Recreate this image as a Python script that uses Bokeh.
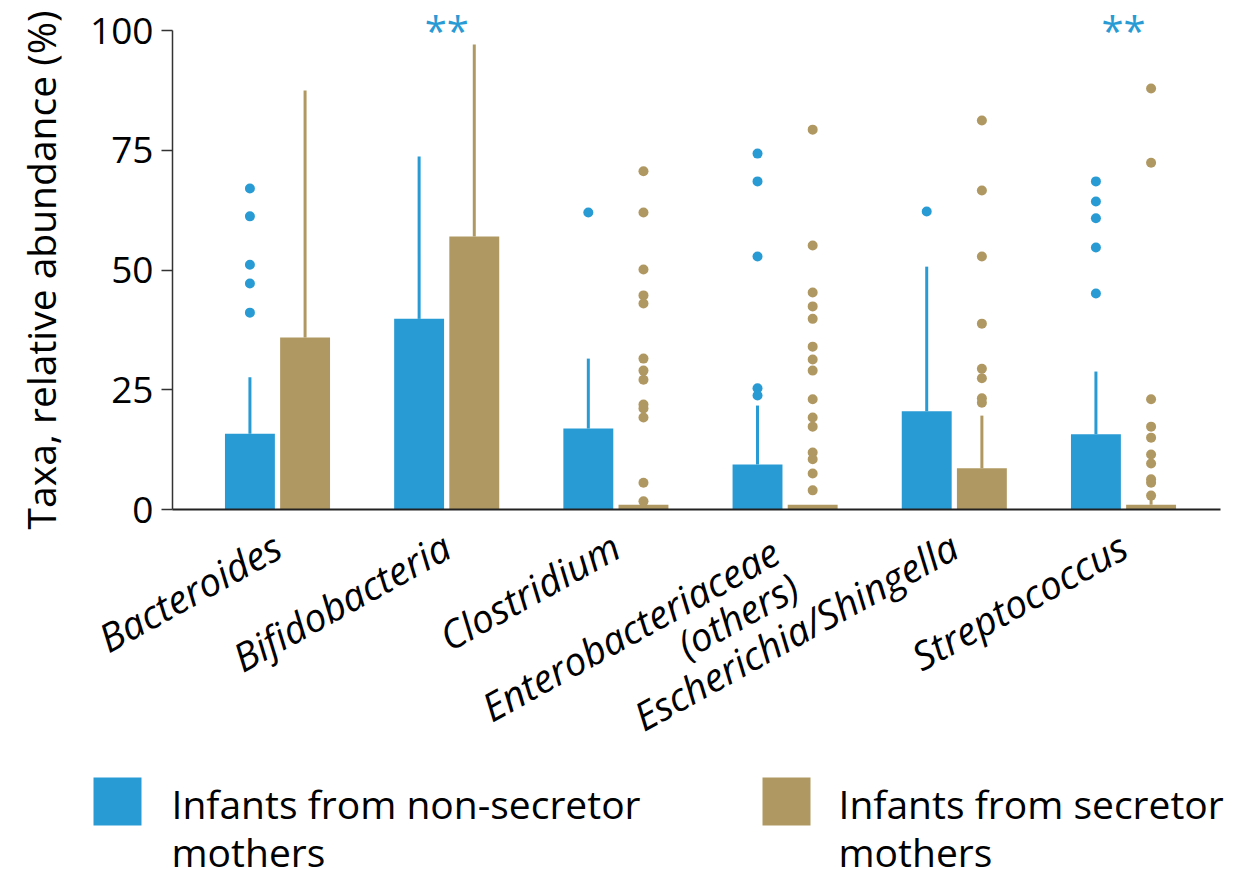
import math

from bokeh.core.properties import value
from bokeh.embed import file_html
from bokeh.layouts import column
from bokeh.models import FixedTicker, Label, LinearAxis, Range1d
from bokeh.plotting import figure
from bokeh.resources import INLINE

# Taxa shown along the x axis
taxa = [
    "Bacteroides",
    "Bifidobacteria",
    "Clostridium",
    "Enterobacteriaceae\n(others)",
    "Escherichia/Shingella",
    "Streptococcus",
]

# Relative abundance (%) per taxon: bar height and upper whisker
nonsecretor_bar = [15.8, 39.8, 16.9, 9.4, 20.5, 15.7]
nonsecretor_whisker = [27.6, 73.7, 31.5, 21.7, 50.7, 28.8]
secretor_bar = [35.9, 57.0, 1.0, 1.0, 8.6, 1.0]
secretor_whisker = [87.5, 97.1, 1.5, 1.0, 19.6, 2.5]

# Individual outlying samples per taxon
nonsecretor_outliers = [
    [67.0, 61.2, 51.1, 47.2, 41.1],
    [],
    [62.0],
    [74.3, 68.5, 52.8, 25.3, 23.8],
    [62.2],
    [68.5, 64.3, 60.8, 54.7, 45.1],
]
secretor_outliers = [
    [],
    [],
    [70.6, 62.0, 50.1, 44.7, 43.0, 31.5, 29.0, 27.1, 21.9, 21.1, 19.2, 5.6, 1.7],
    [79.3, 55.1, 45.3, 42.4, 39.8, 34.0, 31.3, 29.0, 23.0, 19.2, 17.3, 11.9, 10.5, 7.5, 4.0],
    [81.2, 66.6, 52.8, 38.8, 29.4, 27.4, 23.2, 22.3],
    [87.9, 72.4, 23.0, 17.3, 15.0, 11.5, 9.6, 6.3, 5.6, 2.9],
]

# Significance marks above each taxon
significance = ["", "**", "", "", "", "**"]

y_ticks = [0, 25, 50, 75, 100]
series_names = ["Infants from non-secretor\nmothers", "Infants from secretor\nmothers"]

BLUE = "#289BD4"
TAN = "#B09862"
FONT = "Open Sans"
TICK_FS = "37px"
FS = "39px"

OFFSET = 0.163
BAR_W = 0.295
LABEL_ANGLE = math.radians(29)
LABEL_STANDOFF = 33
MULTI_LINE_HEIGHT = 0.75
LINE_SHIFT = 23      # extra drop so two-line names hang from their first line

# Pixel layout of the chart panel.  The frame fills the whole panel so the
# rotated taxon names and the asterisks have room; both axes are pinned
# inside it at fixed data locations.
PANEL_W = 1240
PANEL_H = 760
PX_HUNDRED = 30      # y pixel of 100 %
PX_ZERO = 509        # y pixel of 0 %
PX_GROUP0 = 277      # x pixel of the first taxon
PX_STEP = 169.2      # x pixels between taxa
PX_AXIS_L = 172
PX_AXIS_R = 1220

px_per_unit = (PX_ZERO - PX_HUNDRED) / 100.0
y_lo = -(PANEL_H - PX_ZERO) / px_per_unit
y_hi = 100 + PX_HUNDRED / px_per_unit
x_lo = -PX_GROUP0 / PX_STEP
x_hi = (PANEL_W - PX_GROUP0) / PX_STEP
x_axis_l = (PX_AXIS_L - PX_GROUP0) / PX_STEP
x_axis_r = (PX_AXIS_R - PX_GROUP0) / PX_STEP

p = figure(
    width=PANEL_W,
    height=PANEL_H,
    x_range=Range1d(x_lo, x_hi),
    y_range=Range1d(y_lo, y_hi),
    output_backend="svg",
    toolbar_location=None,
    min_border=0,
    min_border_left=0,
    min_border_right=0,
    min_border_top=0,
    min_border_bottom=0,
)
p.frame_align = False
p.outline_line_color = None
p.grid.visible = False

idx = list(range(len(taxa)))
x_non = [i - OFFSET for i in idx]
x_sec = [i + OFFSET for i in idx]

# Whiskers first, so the bars sit on top of their bases
p.segment(x0=x_non, y0=nonsecretor_bar, x1=x_non, y1=nonsecretor_whisker,
          line_color=BLUE, line_width=3)
p.segment(x0=x_sec, y0=secretor_bar, x1=x_sec, y1=secretor_whisker,
          line_color=TAN, line_width=3)

p.vbar(x=x_non, top=nonsecretor_bar, bottom=0, width=BAR_W,
       fill_color=BLUE, line_color=None)
p.vbar(x=x_sec, top=secretor_bar, bottom=0, width=BAR_W,
       fill_color=TAN, line_color=None)

# Outlier dots
ox_n, oy_n, ox_s, oy_s = [], [], [], []
for i in idx:
    for v in nonsecretor_outliers[i]:
        ox_n.append(i - OFFSET)
        oy_n.append(v)
    for v in secretor_outliers[i]:
        ox_s.append(i + OFFSET)
        oy_s.append(v)
p.scatter(x=ox_n, y=oy_n, size=10, fill_color=BLUE, line_color=None)
p.scatter(x=ox_s, y=oy_s, size=10, fill_color=TAN, line_color=None)

# Significance asterisks
for i, s in enumerate(significance):
    if s:
        p.add_layout(Label(x=i, y=100, text=s, text_align="center",
                           text_baseline="alphabetic",
                           text_font=FONT, text_font_size="40px",
                           text_color=BLUE))

# Y axis pinned at the left end of the category baseline, 0-100 only
ya = p.yaxis[0]
ya.fixed_location = x_axis_l
ya.bounds = (0, 100)
ya.ticker = FixedTicker(ticks=y_ticks)
ya.minor_tick_line_color = None
ya.major_tick_in = 0
ya.major_tick_out = 11
ya.major_label_standoff = 8
ya.axis_line_color = "#333333"
ya.major_tick_line_color = "#333333"
ya.axis_line_width = 1.5
ya.major_tick_line_width = 1.5
ya.major_label_text_font = FONT
ya.major_label_text_font_size = TICK_FS
ya.major_label_text_color = "black"
ya.axis_label = "Taxa, relative abundance (%)"
ya.axis_label_text_font = FONT
ya.axis_label_text_font_size = FS
ya.axis_label_text_font_style = "normal"
ya.axis_label_text_color = "black"
ya.axis_label_standoff = 20


def style_category_axis(ax, ticks, standoff):
    ax.fixed_location = 0
    ax.ticker = FixedTicker(ticks=ticks)
    ax.major_label_overrides = {i: taxa[i] for i in ticks}
    ax.major_label_orientation = LABEL_ANGLE
    ax.minor_tick_line_color = None
    ax.major_tick_line_color = None
    ax.major_tick_in = 0
    ax.major_tick_out = 0
    ax.major_label_standoff = standoff
    ax.major_label_text_font = FONT
    ax.major_label_text_font_size = FS
    ax.major_label_text_font_style = "italic"
    ax.major_label_text_color = "black"


single_line = [i for i in idx if "\n" not in taxa[i]]
multi_line = [i for i in idx if "\n" in taxa[i]]

# X axis pinned at zero, carrying the one-line taxon names
xa = p.xaxis[0]
style_category_axis(xa, single_line, LABEL_STANDOFF)
xa.bounds = (x_axis_l, x_axis_r)
xa.axis_line_color = "#222222"
xa.axis_line_width = 2

# Companion axis for the two-line names, dropped so the first line lines up
xa2 = LinearAxis()
style_category_axis(xa2, multi_line, LABEL_STANDOFF + LINE_SHIFT)
xa2.major_label_text_line_height = MULTI_LINE_HEIGHT
xa2.axis_line_color = None
p.add_layout(xa2, "below")

# Legend panel below the chart
leg = figure(
    width=1240,
    height=109,
    x_range=Range1d(0, 1240),
    y_range=Range1d(109, 0),
    output_backend="svg",
    toolbar_location=None,
    min_border=0,
    min_border_left=0,
    min_border_right=0,
    min_border_top=0,
    min_border_bottom=0,
    x_axis_location=None,
    y_axis_location=None,
)
leg.frame_align = False
leg.outline_line_color = None
leg.grid.visible = False

swatch_x = [117, 786]
text_x = [171, 838]
for sx, tx, col, name in zip(swatch_x, text_x, [BLUE, TAN], series_names):
    leg.rect(x=[sx], y=[41], width=48, height=48, fill_color=col, line_color=None)
    lines = name.split("\n")
    leg.text(x=[tx] * len(lines), y=[43 + 48 * k for k in range(len(lines))],
             text=lines, text_font=value(FONT), text_font_size=FS,
             text_baseline="alphabetic", text_align="left", text_color="black")

layout = column(p, leg)
open("out.html", "w").write(file_html(layout, INLINE))
